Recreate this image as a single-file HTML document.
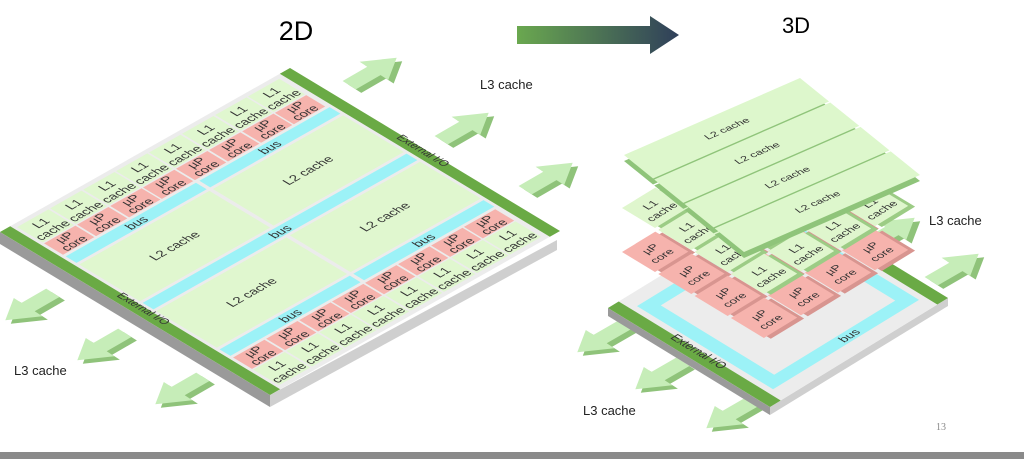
<!DOCTYPE html>
<html><head><meta charset="utf-8"><style>
html,body{margin:0;padding:0;background:#fff;}
svg{display:block;font-family:"Liberation Sans",sans-serif;}
</style></head><body>
<svg width="1024" height="459" viewBox="0 0 1024 459" xmlns="http://www.w3.org/2000/svg">
<defs>
<linearGradient id="ag" x1="0" x2="1" y1="0" y2="0">
<stop offset="0" stop-color="#6aa84f"/><stop offset="1" stop-color="#2f3f5a"/></linearGradient>
<g id="arr">
<polygon points="-12,-6 1,-6 1,-13 13,0 1,13 1,6 -12,6" fill="#8fc37a" transform="translate(0,5)"/>
<polygon points="-12,-6 1,-6 1,-13 13,0 1,13 1,6 -12,6" fill="#c6edb8"/>
</g>
</defs>
<rect width="1024" height="459" fill="#fff"/>
<rect x="0" y="452" width="1024" height="7" fill="#8a8a8a"/>
<text x="296" y="40" font-size="27" text-anchor="middle">2D</text>
<text x="796" y="33" font-size="22" text-anchor="middle">3D</text>
<polygon points="517,26 650,26 650,16 679,35 650,54 650,44 517,44" fill="url(#ag)"/>
<text x="936" y="430" font-size="10" fill="#888" font-family="Liberation Serif,serif">13</text>
<g font-size="13" fill="#222">
<text x="480" y="89">L3 cache</text>
<text x="14" y="375">L3 cache</text>
<text x="929" y="225">L3 cache</text>
<text x="583" y="415">L3 cache</text>
</g>

<!-- left chip sides -->
<polygon points="0,232 270,395 270,407 0,244" fill="#9a9a9a"/>
<polygon points="270,395 557,240 557,250 270,407" fill="#cfcfcf"/>
<g transform="matrix(2.90,-1.64,2.70,1.63,0,232)">
<polygon points="0,0 100,0 100,100 0,100" fill="#ececec"/>
<rect x="0" y="0" width="3.5" height="100" fill="#6aaa45"/>
<rect x="96.5" y="0" width="3.5" height="100" fill="#6aaa45"/>
<g fill="#e0f7cf">
<rect x="4.5" y="1.5" width="10.8" height="9.5"/><rect x="15.9" y="1.5" width="10.8" height="9.5"/><rect x="27.3" y="1.5" width="10.8" height="9.5"/><rect x="38.6" y="1.5" width="10.8" height="9.5"/><rect x="50" y="1.5" width="10.8" height="9.5"/><rect x="61.4" y="1.5" width="10.8" height="9.5"/><rect x="72.8" y="1.5" width="10.8" height="9.5"/><rect x="84.1" y="1.5" width="10.8" height="9.5"/>
<rect x="4.5" y="89" width="10.8" height="9.5"/><rect x="15.9" y="89" width="10.8" height="9.5"/><rect x="27.3" y="89" width="10.8" height="9.5"/><rect x="38.6" y="89" width="10.8" height="9.5"/><rect x="50" y="89" width="10.8" height="9.5"/><rect x="61.4" y="89" width="10.8" height="9.5"/><rect x="72.8" y="89" width="10.8" height="9.5"/><rect x="84.1" y="89" width="10.8" height="9.5"/>
<rect x="4.5" y="24.5" width="44.9" height="22.5"/><rect x="50.6" y="24.5" width="44.9" height="22.5"/>
<rect x="4.5" y="53" width="44.9" height="22.5"/><rect x="50.6" y="53" width="44.9" height="22.5"/>
</g>
<g fill="#f6b3ad">
<rect x="4.5" y="11.5" width="10.8" height="7"/><rect x="15.9" y="11.5" width="10.8" height="7"/><rect x="27.3" y="11.5" width="10.8" height="7"/><rect x="38.6" y="11.5" width="10.8" height="7"/><rect x="50" y="11.5" width="10.8" height="7"/><rect x="61.4" y="11.5" width="10.8" height="7"/><rect x="72.8" y="11.5" width="10.8" height="7"/><rect x="84.1" y="11.5" width="10.8" height="7"/>
<rect x="4.5" y="81.5" width="10.8" height="7"/><rect x="15.9" y="81.5" width="10.8" height="7"/><rect x="27.3" y="81.5" width="10.8" height="7"/><rect x="38.6" y="81.5" width="10.8" height="7"/><rect x="50" y="81.5" width="10.8" height="7"/><rect x="61.4" y="81.5" width="10.8" height="7"/><rect x="72.8" y="81.5" width="10.8" height="7"/><rect x="84.1" y="81.5" width="10.8" height="7"/>
</g>
<g fill="#9cf2f7">
<rect x="4.5" y="19.5" width="44.9" height="4"/><rect x="50.6" y="19.5" width="44.9" height="4"/>
<rect x="4.5" y="48" width="91" height="4"/>
<rect x="4.5" y="76.5" width="44.9" height="4"/><rect x="50.6" y="76.5" width="44.9" height="4"/>
</g>
<g font-size="3.9" text-anchor="middle" fill="#333">
<text x="9.9" y="5.8">L1</text><text x="9.9" y="10.2">cache</text>
<text x="21.3" y="5.8">L1</text><text x="21.3" y="10.2">cache</text>
<text x="32.7" y="5.8">L1</text><text x="32.7" y="10.2">cache</text>
<text x="44" y="5.8">L1</text><text x="44" y="10.2">cache</text>
<text x="55.4" y="5.8">L1</text><text x="55.4" y="10.2">cache</text>
<text x="66.8" y="5.8">L1</text><text x="66.8" y="10.2">cache</text>
<text x="78.2" y="5.8">L1</text><text x="78.2" y="10.2">cache</text>
<text x="89.5" y="5.8">L1</text><text x="89.5" y="10.2">cache</text>
<text x="9.9" y="93.3">L1</text><text x="9.9" y="97.7">cache</text>
<text x="21.3" y="93.3">L1</text><text x="21.3" y="97.7">cache</text>
<text x="32.7" y="93.3">L1</text><text x="32.7" y="97.7">cache</text>
<text x="44" y="93.3">L1</text><text x="44" y="97.7">cache</text>
<text x="55.4" y="93.3">L1</text><text x="55.4" y="97.7">cache</text>
<text x="66.8" y="93.3">L1</text><text x="66.8" y="97.7">cache</text>
<text x="78.2" y="93.3">L1</text><text x="78.2" y="97.7">cache</text>
<text x="89.5" y="93.3">L1</text><text x="89.5" y="97.7">cache</text>
<text x="9.9" y="14.6">µP</text><text x="9.9" y="18.2">core</text>
<text x="21.3" y="14.6">µP</text><text x="21.3" y="18.2">core</text>
<text x="32.7" y="14.6">µP</text><text x="32.7" y="18.2">core</text>
<text x="44" y="14.6">µP</text><text x="44" y="18.2">core</text>
<text x="55.4" y="14.6">µP</text><text x="55.4" y="18.2">core</text>
<text x="66.8" y="14.6">µP</text><text x="66.8" y="18.2">core</text>
<text x="78.2" y="14.6">µP</text><text x="78.2" y="18.2">core</text>
<text x="89.5" y="14.6">µP</text><text x="89.5" y="18.2">core</text>
<text x="9.9" y="84.6">µP</text><text x="9.9" y="88.2">core</text>
<text x="21.3" y="84.6">µP</text><text x="21.3" y="88.2">core</text>
<text x="32.7" y="84.6">µP</text><text x="32.7" y="88.2">core</text>
<text x="44" y="84.6">µP</text><text x="44" y="88.2">core</text>
<text x="55.4" y="84.6">µP</text><text x="55.4" y="88.2">core</text>
<text x="66.8" y="84.6">µP</text><text x="66.8" y="88.2">core</text>
<text x="78.2" y="84.6">µP</text><text x="78.2" y="88.2">core</text>
<text x="89.5" y="84.6">µP</text><text x="89.5" y="88.2">core</text>
<text x="27" y="22.9">bus</text><text x="73" y="22.9">bus</text><text x="50" y="51.4">bus</text>
<text x="27" y="79.9">bus</text><text x="73" y="79.9">bus</text>
<text x="27" y="37">L2 cache</text><text x="73" y="37">L2 cache</text>
<text x="27" y="65.5">L2 cache</text><text x="73" y="65.5">L2 cache</text>
</g>
<g font-size="3.4" text-anchor="middle" fill="#333">
<text x="0" y="0" transform="translate(1.8,50) rotate(90)">External I/O</text>
<text x="0" y="0" transform="translate(98.2,50) rotate(90)">External I/O</text>
</g>
</g>

<!-- left arrows -->
<use href="#arr" transform="translate(372,72) matrix(1.9,-1.1,1.1,0.7,0,0)"/>
<use href="#arr" transform="translate(464,127) matrix(1.9,-1.1,1.1,0.7,0,0)"/>
<use href="#arr" transform="translate(548,177) matrix(1.9,-1.1,1.1,0.7,0,0)"/>
<use href="#arr" transform="translate(30,306) matrix(-1.9,1.1,1.1,0.7,0,0)"/>
<use href="#arr" transform="translate(102,346) matrix(-1.9,1.1,1.1,0.7,0,0)"/>
<use href="#arr" transform="translate(180,390) matrix(-1.9,1.1,1.1,0.7,0,0)"/>

<!-- right chip -->
<use href="#arr" transform="translate(602,338) matrix(-1.9,1.1,1.1,0.7,0,0)"/>
<use href="#arr" transform="translate(660,375) matrix(-1.9,1.1,1.1,0.7,0,0)"/>
<use href="#arr" transform="translate(731,414) matrix(-1.9,1.1,1.1,0.7,0,0)"/>
<use href="#arr" transform="translate(954,268) matrix(1.9,-1.1,1.1,0.7,0,0)"/>
<use href="#arr" transform="translate(890,232) matrix(1.9,-1.1,1.1,0.7,0,0)"/>

<polygon points="608,308 770,407 770,415 608,316" fill="#9a9a9a"/>
<polygon points="770,407 948,298 948,306 770,415" fill="#cfcfcf"/>
<g transform="matrix(1.78,-1.09,1.62,0.99,608,308)">
<polygon points="0,0 100,0 100,100 0,100" fill="#ececec"/>
<rect x="0" y="0" width="6" height="100" fill="#6aaa45"/>
<rect x="94" y="0" width="6" height="100" fill="#6aaa45"/>
<rect x="9" y="8" width="82" height="84" fill="#9cf2f7"/>
<rect x="16" y="15" width="68" height="70" fill="#ececec"/>
<text x="0" y="0" font-size="6" fill="#333" text-anchor="middle" transform="translate(3.5,50) rotate(90)">External I/O</text>
<text x="55" y="90.5" font-size="6" fill="#333" text-anchor="middle">bus</text>
</g>
<!-- cores layer -->
<g transform="matrix(1.85,-1.13,1.65,1.0,622,252)">
<g fill="#d89590" transform="translate(1.5,2.5)">
<rect x="0" y="0" width="18" height="20"/><rect x="20" y="0" width="18" height="20"/><rect x="40" y="0" width="18" height="20"/><rect x="60" y="0" width="18" height="20"/>
<rect x="0" y="22" width="18" height="20"/><rect x="20" y="22" width="18" height="20"/><rect x="40" y="22" width="18" height="20"/><rect x="60" y="22" width="18" height="20"/>
<rect x="0" y="44" width="18" height="20"/><rect x="20" y="44" width="18" height="20"/><rect x="40" y="44" width="18" height="20"/><rect x="60" y="44" width="18" height="20"/>
<rect x="0" y="66" width="18" height="20"/><rect x="20" y="66" width="18" height="20"/><rect x="40" y="66" width="18" height="20"/><rect x="60" y="66" width="18" height="20"/>
</g>
<g fill="#f6b3ad">
<rect x="0" y="0" width="18" height="20"/><rect x="20" y="0" width="18" height="20"/><rect x="40" y="0" width="18" height="20"/><rect x="60" y="0" width="18" height="20"/>
<rect x="0" y="22" width="18" height="20"/><rect x="20" y="22" width="18" height="20"/><rect x="40" y="22" width="18" height="20"/><rect x="60" y="22" width="18" height="20"/>
<rect x="0" y="44" width="18" height="20"/><rect x="20" y="44" width="18" height="20"/><rect x="40" y="44" width="18" height="20"/><rect x="60" y="44" width="18" height="20"/>
<rect x="0" y="66" width="18" height="20"/><rect x="20" y="66" width="18" height="20"/><rect x="40" y="66" width="18" height="20"/><rect x="60" y="66" width="18" height="20"/>
</g>
<g font-size="5.5" fill="#333" text-anchor="middle">
<text x="9" y="9">µP</text><text x="9" y="16">core</text>
<text x="9" y="31">µP</text><text x="9" y="38">core</text>
<text x="9" y="53">µP</text><text x="9" y="60">core</text>
<text x="9" y="75">µP</text><text x="9" y="82">core</text>
<text x="29" y="75">µP</text><text x="29" y="82">core</text>
<text x="49" y="75">µP</text><text x="49" y="82">core</text>
<text x="69" y="75">µP</text><text x="69" y="82">core</text>
<text x="69" y="53">µP</text><text x="69" y="60">core</text>
</g>
</g>
<!-- L1 layer -->
<g transform="matrix(1.85,-1.13,1.65,1.0,622,208)">
<g fill="#9ccc85" transform="translate(1.5,2.5)">
<rect x="0" y="0" width="18" height="20"/><rect x="20" y="0" width="18" height="20"/><rect x="40" y="0" width="18" height="20"/><rect x="60" y="0" width="18" height="20"/>
<rect x="0" y="22" width="18" height="20"/><rect x="20" y="22" width="18" height="20"/><rect x="40" y="22" width="18" height="20"/><rect x="60" y="22" width="18" height="20"/>
<rect x="0" y="44" width="18" height="20"/><rect x="20" y="44" width="18" height="20"/><rect x="40" y="44" width="18" height="20"/><rect x="60" y="44" width="18" height="20"/>
<rect x="0" y="66" width="18" height="20"/><rect x="20" y="66" width="18" height="20"/><rect x="40" y="66" width="18" height="20"/><rect x="60" y="66" width="18" height="20"/>
</g>
<g fill="#dff6cd">
<rect x="0" y="0" width="18" height="20"/><rect x="20" y="0" width="18" height="20"/><rect x="40" y="0" width="18" height="20"/><rect x="60" y="0" width="18" height="20"/>
<rect x="0" y="22" width="18" height="20"/><rect x="20" y="22" width="18" height="20"/><rect x="40" y="22" width="18" height="20"/><rect x="60" y="22" width="18" height="20"/>
<rect x="0" y="44" width="18" height="20"/><rect x="20" y="44" width="18" height="20"/><rect x="40" y="44" width="18" height="20"/><rect x="60" y="44" width="18" height="20"/>
<rect x="0" y="66" width="18" height="20"/><rect x="20" y="66" width="18" height="20"/><rect x="40" y="66" width="18" height="20"/><rect x="60" y="66" width="18" height="20"/>
</g>
<g font-size="5.5" fill="#333" text-anchor="middle">
<text x="9" y="9">L1</text><text x="9" y="16">cache</text>
<text x="9" y="31">L1</text><text x="9" y="38">cache</text>
<text x="9" y="53">L1</text><text x="9" y="60">cache</text>
<text x="9" y="75">L1</text><text x="9" y="82">cache</text>
<text x="29" y="75">L1</text><text x="29" y="82">cache</text>
<text x="49" y="75">L1</text><text x="49" y="82">cache</text>
<text x="69" y="75">L1</text><text x="69" y="82">cache</text>
</g>
</g>
<!-- L2 layer -->
<g transform="matrix(1.76,-0.77,1.20,0.97,624,161)">
<g fill="#8fc47a">
<rect x="0" y="0" width="100" height="24.2"/><rect x="0" y="25.2" width="100" height="24.2"/><rect x="0" y="50.4" width="100" height="24.2"/><rect x="0" y="75.6" width="100" height="24.4"/>
</g>
</g>
<g transform="matrix(1.76,-0.77,1.20,0.97,624,155)">
<g fill="#ddf7cc">
<rect x="0" y="0" width="100" height="24.2"/><rect x="0" y="25.2" width="100" height="24.2"/><rect x="0" y="50.4" width="100" height="24.2"/><rect x="0" y="75.6" width="100" height="24.4"/>
</g>
<g font-size="6" fill="#333" text-anchor="middle">
<text x="50" y="14.5">L2 cache</text><text x="50" y="39.7">L2 cache</text><text x="50" y="64.9">L2 cache</text><text x="50" y="90.1">L2 cache</text>
</g>
</g>
</svg>
</body></html>
